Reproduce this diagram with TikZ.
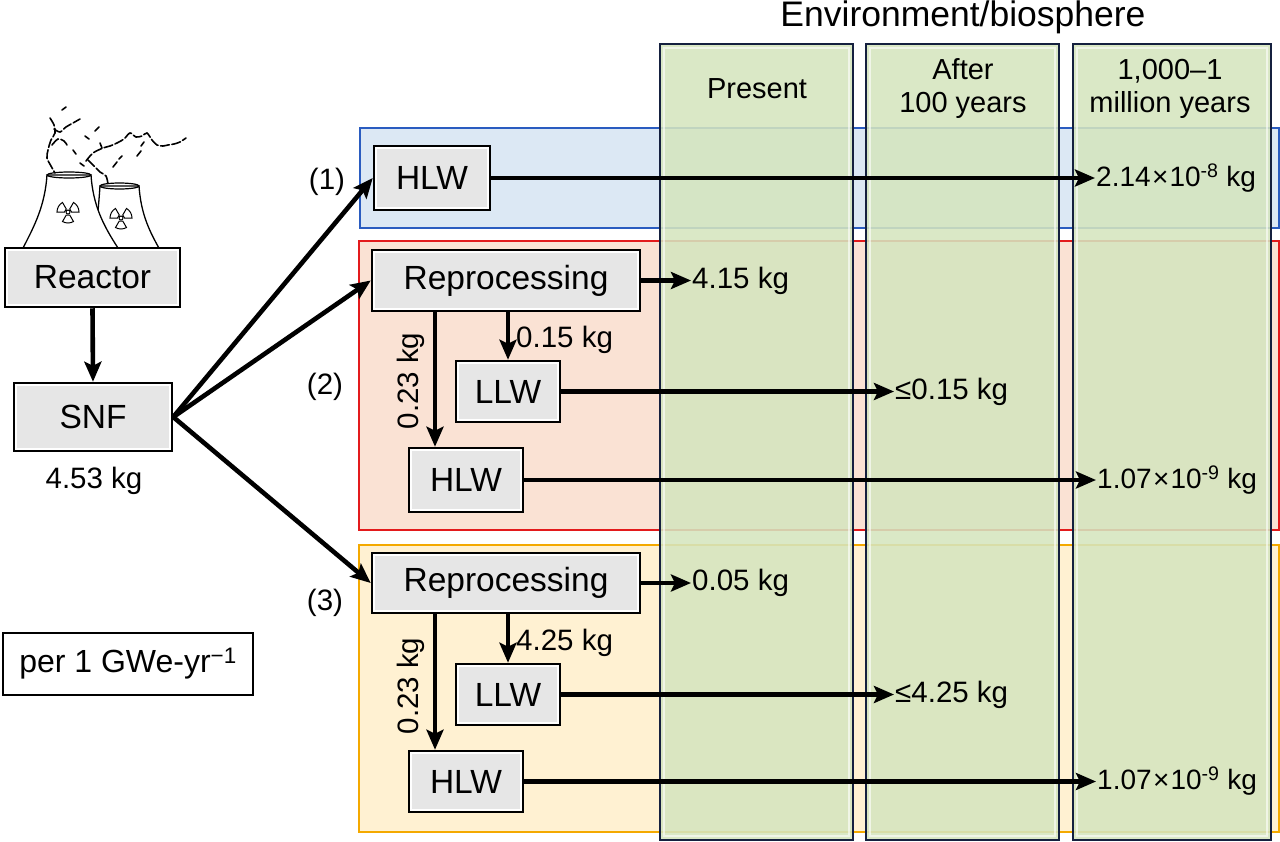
\documentclass[tikz,border=0pt]{standalone}
\usepackage{fontspec}
\setmainfont{Liberation Sans}
\usetikzlibrary{arrows.meta,calc}
\definecolor{boxgray}{HTML}{E6E6E6}
\definecolor{colgreen}{HTML}{D5E5BF}
\definecolor{colborder}{HTML}{15203F}
\definecolor{rAfill}{HTML}{DCE8F4}
\definecolor{rAdraw}{HTML}{2A5CC0}
\definecolor{rBfill}{HTML}{FAE2D4}
\definecolor{rBdraw}{HTML}{E31A1C}
\definecolor{rCfill}{HTML}{FFF1D2}
\definecolor{rCdraw}{HTML}{F4A900}
\newcommand\szBox{\fontsize{33.5pt}{38pt}\selectfont}
\newcommand\szLab{\fontsize{29.5pt}{33pt}\selectfont}
\newcommand\szSci{\fontsize{28pt}{33pt}\selectfont}
\newcommand\szHdr{\fontsize{29pt}{33pt}\selectfont}
\newcommand\szTitle{\fontsize{35.5pt}{40pt}\selectfont}
\newcommand\scinum[2]{#1\kern1.5pt×\kern1pt10\textsuperscript{#2}\ kg}
\tikzset{
  boxnode/.style={draw=black, line width=2.5pt, fill=white, inner sep=0pt, font=\szBox,
    path picture={\fill[boxgray] ([shift={(3pt,3pt)}]path picture bounding box.south west) rectangle ([shift={(-3pt,-3pt)}]path picture bounding box.north east);}},
  lab/.style={font=\szLab, inner sep=1pt, anchor=west},
  scilab/.style={font=\szSci, inner sep=1pt, anchor=west},
  hdr/.style={font=\szHdr, inner sep=1pt, align=center},
  arr/.style={line width=4.6pt, -{Stealth[length=20pt,width=17pt,inset=4pt]}},
  smoke/.style={line width=1.6pt, line cap=round, dash pattern=on 9pt off 2.5pt},
  radsym/.pic={
    \foreach \a in {90,210,330} {
      \draw[line width=1pt, fill=white] (\a-30:3.5) -- (\a-30:11) arc[start angle=\a-30, end angle=\a+30, radius=11] -- (\a+30:3.5) arc[start angle=\a+30, end angle=\a-30, radius=3.5] -- cycle;
    }
    \draw[line width=1pt] (0,0) circle (2);
  }
}
\begin{document}
\begin{tikzpicture}[x=1pt,y=-1pt]
\useasboundingbox (0,0) rectangle (1280,841);
\fill[white] (0,0) rectangle (1280,841);

% pathway regions
\draw[rAdraw, fill=rAfill, line width=1.5pt] (360,128) rectangle (1279,228);
\draw[rBdraw, fill=rBfill, line width=2pt] (359,241) rectangle (1279,530);
\draw[rCdraw, fill=rCfill, line width=2pt] (359,545) rectangle (1279,832);

% environment columns
\foreach \xa/\xb in {660/853, 866/1059, 1073/1271} {
  \fill[colgreen, fill opacity=0.88] (\xa,44) rectangle (\xb,840);
  \draw[white, opacity=0.6, line width=1.5pt] (\xa+4,48) rectangle (\xb-4,836);
  \draw[colborder, line width=2.2pt] (\xa,44) rectangle (\xb,840);
}
\node[font=\szTitle, inner sep=1pt] (title) at (963,17) {Environment/biosphere};
\node[hdr] (hpres) at (757,89) {Present};
\node[hdr] (hafter) at (963,89) {After\\100 years};
\node[hdr] (hmill) at (1170,89) {1,000–1\\million years};

% reactor icon: smoke
\draw[smoke] plot[smooth] coordinates {(50,118) (54,125) (55,133) (51,140) (48,150) (47,158) (51,166) (55,173)};
\draw[smoke] plot[smooth] coordinates {(54,129) (60,132) (66,127) (73,123) (80,119)};
\draw[smoke] plot[smooth] coordinates {(52,145) (58,139) (64,141) (67,145)};
\draw[smoke] plot[smooth] coordinates {(86,161) (93,153) (103,148) (110,146) (117,143) (124,139) (130,133) (136,137) (142,136) (147,133) (152,140) (157,145) (163,146) (168,145) (174,144) (180,142) (186,138)};
\draw[smoke] plot[smooth] coordinates {(88,160) (94,166) (100,172) (106,176) (108,184)};
\draw[smoke] (62,110) -- (66,107);
\draw[smoke] (85,136) -- (89,139);
\draw[smoke] (95,131) -- (99,127);
\draw[smoke] (100,143) -- (102,148);
\draw[smoke] (113,167) -- (117,162);
\draw[smoke] (119,159) -- (122,156);
\draw[smoke] (137,156) -- (141,151);
\draw[smoke] (141,146) -- (144,142);
\draw[smoke] (73,150) -- (76,154);
\draw[smoke] (80,163) -- (84,166);
% towers
\draw[line width=1.3pt, fill=white] (100,186) .. controls (98,215) and (96,232) .. (92,250) -- (160,250) .. controls (150,232) and (141,215) .. (139,186) -- cycle;
\draw[line width=1.2pt] (119.5,186) ellipse (19.5 and 3);
\draw[line width=1.3pt, fill=white] (47,175) .. controls (45,205) and (35,225) .. (23,248) -- (118,248) .. controls (103,225) and (93,205) .. (91,175) -- cycle;
\draw[line width=1.2pt] (69,175) ellipse (22 and 3);
\pic at (68,212) {radsym};
\pic at (121,218) {radsym};

% boxes
\node[boxnode, minimum width=175pt, minimum height=59pt] (reactor) at (92.5,277.5) {Reactor};
\node[boxnode, minimum width=158pt, minimum height=68pt] (snf) at (93,417) {SNF};
\node[lab, anchor=center] (snfkg) at (94,481) {4.53 kg};
\node[draw=black, line width=2.5pt, fill=white, font=\fontsize{32pt}{36pt}\selectfont, inner sep=0pt, minimum width=250pt, minimum height=62pt] (per) at (128,664) {per 1 GWe-yr\textsuperscript{−1}};

\node[boxnode, minimum width=116pt, minimum height=64pt] (hlwA) at (432,178) {HLW};
\node[boxnode, minimum width=268pt, minimum height=61pt] (repB) at (506,280.5) {Reprocessing};
\node[boxnode, minimum width=104pt, minimum height=61pt] (llwB) at (508,391.5) {LLW};
\node[boxnode, minimum width=114pt, minimum height=64pt] (hlwB) at (466,480) {HLW};
\node[boxnode, minimum width=268pt, minimum height=60pt] (repC) at (506,583) {Reprocessing};
\node[boxnode, minimum width=104pt, minimum height=61pt] (llwC) at (508,694.5) {LLW};
\node[boxnode, minimum width=114pt, minimum height=61pt] (hlwC) at (466,781.5) {HLW};

\node[lab, anchor=center] (nA) at (327,182) {(1)};
\node[lab, anchor=center] (nB) at (325,387) {(2)};
\node[lab, anchor=center] (nC) at (325,603) {(3)};

% outcome labels
\node[scilab] (oA) at (1095,178) {\scinum{2.14}{-8}};
\node[lab] (oB1) at (691,280.5) {4.15 kg};
\node[lab] (oB2) at (894,391.5) {≤0.15 kg};
\node[scilab] (oB3) at (1096,480) {\scinum{1.07}{-9}};
\node[lab] (oC1) at (691,583) {0.05 kg};
\node[lab] (oC2) at (894,694.5) {≤4.25 kg};
\node[scilab] (oC3) at (1096,781.5) {\scinum{1.07}{-9}};

\node[lab] (kB1) at (515,340) {0.15 kg};
\node[lab, rotate=90, anchor=center] (kB2) at (411,381) {0.23 kg};
\node[lab] (kC1) at (515,643) {4.25 kg};
\node[lab, rotate=90, anchor=center] (kC2) at (411,686) {0.23 kg};

\coordinate (xdown) at (435,0);

% connectors
\draw[arr] (reactor.south) -- (snf.north);
\draw[arr] (snf.east) -- (hlwA.west);
\draw[arr] (snf.east) -- (repB.west);
\draw[arr] (snf.east) -- (repC.west);

\draw[arr] (hlwA.east) -- (oA.west);
\draw[arr] (repB.east) -- (oB1.west);
\draw[arr] (repB.south -| llwB.north) -- (llwB.north);
\draw[arr] (repB.south -| xdown) -- (hlwB.north -| xdown);
\draw[arr] (llwB.east) -- (oB2.west);
\draw[arr] (hlwB.east) -- (oB3.west);

\draw[arr] (repC.east) -- (oC1.west);
\draw[arr] (repC.south -| llwC.north) -- (llwC.north);
\draw[arr] (repC.south -| xdown) -- (hlwC.north -| xdown);
\draw[arr] (llwC.east) -- (oC2.west);
\draw[arr] (hlwC.east) -- (oC3.west);
\end{tikzpicture}
\end{document}
